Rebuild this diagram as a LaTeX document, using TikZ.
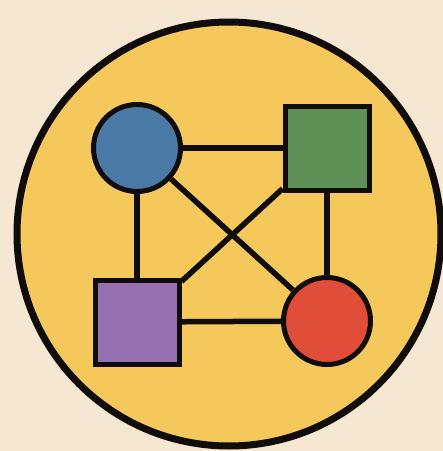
\documentclass[tikz,border=0pt]{standalone}
\definecolor{bgc}{HTML}{F6E7D2}
\definecolor{yel}{HTML}{F5C85C}
\definecolor{nblue}{HTML}{4A7BA6}
\definecolor{ngreen}{HTML}{5F9056}
\definecolor{npurple}{HTML}{9570B0}
\definecolor{nred}{HTML}{E04E3A}
\definecolor{ink}{HTML}{100C0C}
\begin{document}
\begin{tikzpicture}[x=1pt,y=-1pt,
  roundnode/.style={circle,draw=ink,line width=5pt,minimum size=87pt,inner sep=0pt},
  squarenode/.style={rectangle,draw=ink,line width=5pt,minimum size=84pt,inner sep=0pt},
  link/.style={draw=ink,line width=5.5pt}]
\fill[bgc] (0,0) rectangle (443,451);
\useasboundingbox (0,0) rectangle (443,451);
\node[circle,draw=ink,fill=yel,line width=7pt,minimum size=424pt,inner sep=0pt] (disc) at (229,234) {};
\node[roundnode,fill=nblue] (a) at (137,148) {};
\node[squarenode,fill=ngreen] (b) at (327,148) {};
\node[squarenode,fill=npurple] (c) at (137,322) {};
\node[roundnode,fill=nred] (d) at (327,321) {};
\draw[link] (a) -- (b);
\draw[link] (a) -- (c);
\draw[link] (b) -- (d);
\draw[link] (c) -- (d);
\draw[link] (a) -- (d);
\draw[link] (b) -- (c);
\end{tikzpicture}
\end{document}
